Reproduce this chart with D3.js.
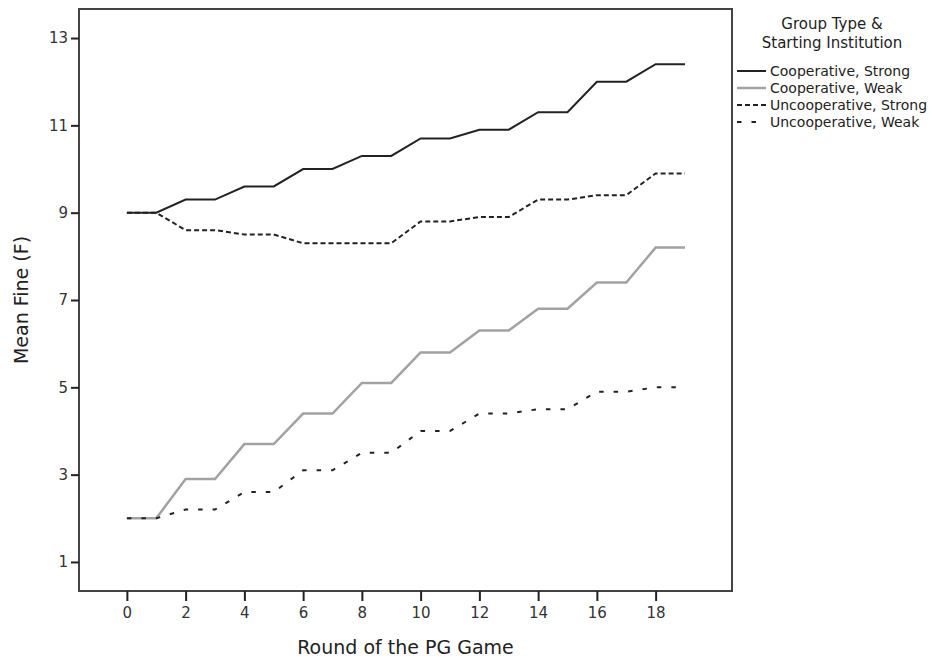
<!DOCTYPE html>
<html>
<head>
<meta charset="utf-8">
<script src="https://cdn.jsdelivr.net/npm/d3@7/dist/d3.min.js"></script>
<style>
  html, body { margin: 0; padding: 0; background: #fff; }
  svg { display: block; font-family: "DejaVu Sans", sans-serif; }
</style>
</head>
<body>
<svg id="chart" width="930" height="661"></svg>
<script>
// data
const rounds = d3.range(0, 20);
const coopStrong   = [9, 9, 9.3, 9.3, 9.6, 9.6, 10.0, 10.0, 10.3, 10.3, 10.7, 10.7, 10.9, 10.9, 11.3, 11.3, 12.0, 12.0, 12.4, 12.4];
const coopWeak     = [2, 2, 2.9, 2.9, 3.7, 3.7, 4.4, 4.4, 5.1, 5.1, 5.8, 5.8, 6.3, 6.3, 6.8, 6.8, 7.4, 7.4, 8.2, 8.2];
const uncoopStrong = [9, 9, 8.6, 8.6, 8.5, 8.5, 8.3, 8.3, 8.3, 8.3, 8.8, 8.8, 8.9, 8.9, 9.3, 9.3, 9.4, 9.4, 9.9, 9.9];
const uncoopWeak   = [2, 2, 2.2, 2.2, 2.6, 2.6, 3.1, 3.1, 3.5, 3.5, 4.0, 4.0, 4.4, 4.4, 4.5, 4.5, 4.9, 4.9, 5.0, 5.0];
const seriesNames  = ["Cooperative, Strong", "Cooperative, Weak", "Uncooperative, Strong", "Uncooperative, Weak"];
const xTicks = d3.range(0, 19, 2);
const yTicks = [1, 3, 5, 7, 9, 11, 13];

const series = [
  { name: seriesNames[0], values: coopStrong,   color: "#222", width: 2,   dash: null },
  { name: seriesNames[1], values: coopWeak,     color: "#a2a2a2", width: 2.5, dash: null },
  { name: seriesNames[2], values: uncoopStrong, color: "#222", width: 2,   dash: "5,3" },
  { name: seriesNames[3], values: uncoopWeak,   color: "#222", width: 2,   dash: "4.5,10" }
];

const svg = d3.select("#chart");
const plotL = 79, plotR = 732, plotT = 9, plotB = 591;

const x = d3.scaleLinear().domain([-1.63, 20.6]).range([plotL, plotR]);
const y = d3.scaleLinear().domain([0.335, 13.665]).range([plotB, plotT]);

// frame
svg.append("rect")
  .attr("x", plotL).attr("y", plotT)
  .attr("width", plotR - plotL).attr("height", plotB - plotT)
  .attr("fill", "none").attr("stroke", "#444").attr("stroke-width", 2);

// axes
const xAxis = svg.append("g")
  .attr("transform", `translate(0,${plotB})`)
  .call(d3.axisBottom(x).tickValues(xTicks).tickSize(10).tickPadding(6));
const yAxis = svg.append("g")
  .attr("transform", `translate(${plotL},0)`)
  .call(d3.axisLeft(y).tickValues(yTicks).tickSize(8).tickPadding(3));

[xAxis, yAxis].forEach(g => {
  g.select(".domain").remove();
  g.selectAll(".tick line").attr("stroke", "#222").attr("stroke-width", 2);
  g.selectAll(".tick text")
    .attr("fill", "#333")
    .style("font-size", "15px")
    .style("font-family", "DejaVu Sans, sans-serif");
});

// lines
const line = d3.line()
  .x((d, i) => x(rounds[i]))
  .y(d => y(d));

series.forEach(s => {
  svg.append("path")
    .datum(s.values)
    .attr("d", line)
    .attr("fill", "none")
    .attr("stroke", s.color)
    .attr("stroke-width", s.width)
    .attr("stroke-dasharray", s.dash);
});

// axis titles
svg.append("text")
  .attr("x", (plotL + plotR) / 2).attr("y", 654)
  .attr("text-anchor", "middle")
  .attr("fill", "#222")
  .style("font-size", "19px")
  .text("Round of the PG Game");

svg.append("text")
  .attr("transform", `translate(28,${(plotT + plotB) / 2}) rotate(-90)`)
  .attr("text-anchor", "middle")
  .attr("fill", "#222")
  .style("font-size", "19px")
  .text("Mean Fine (F)");

// legend
const legend = svg.append("g");
legend.append("text")
  .attr("x", 832).attr("y", 29)
  .attr("text-anchor", "middle").attr("fill", "#222")
  .style("font-size", "15px")
  .text("Group Type &");
legend.append("text")
  .attr("x", 832).attr("y", 48)
  .attr("text-anchor", "middle").attr("fill", "#222")
  .style("font-size", "15px")
  .text("Starting Institution");

series.forEach((s, i) => {
  const ly = 71 + i * 17;
  legend.append("line")
    .attr("x1", 737).attr("x2", 766)
    .attr("y1", ly).attr("y2", ly)
    .attr("stroke", s.color)
    .attr("stroke-width", s.width)
    .attr("stroke-dasharray", s.dash);
  legend.append("text")
    .attr("x", 770).attr("y", ly + 5)
    .attr("fill", "#222")
    .style("font-size", "14px")
    .text(s.name);
});
</script>
</body>
</html>
